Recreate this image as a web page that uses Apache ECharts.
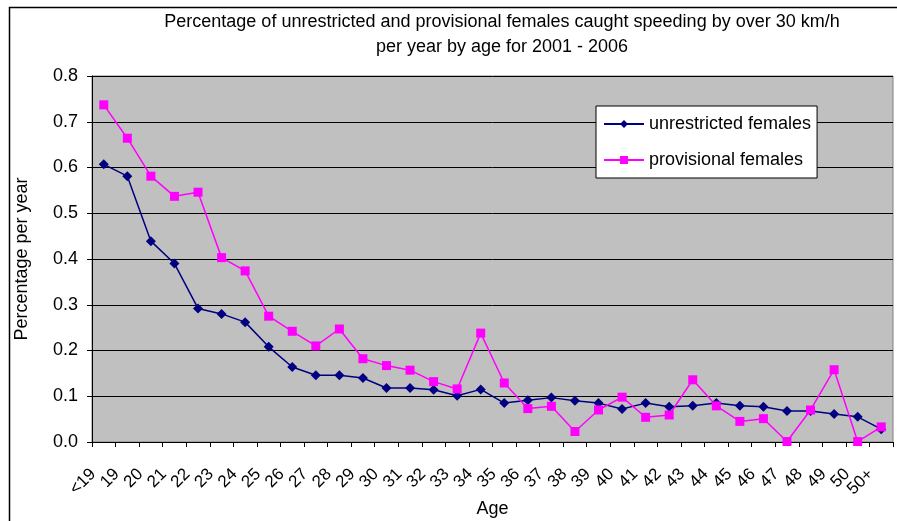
<!DOCTYPE html>
<html>
<head>
<meta charset="utf-8">
<script src="https://cdn.jsdelivr.net/npm/echarts@6/dist/echarts.min.js"></script>
<style>
  html, body { margin: 0; padding: 0; background: #fff; }
  #chart { width: 897px; height: 521px; }
</style>
</head>
<body>
<div id="chart"></div>
<script>
  var ages = ['<19', '19', '20', '21', '22', '23', '24', '25', '26', '27', '28', '29', '30', '31', '32', '33', '34',
    '35', '36', '37', '38', '39', '40', '41', '42', '43', '44', '45', '46', '47', '48', '49', '50', '50+']
  var unrestricted = [0.607, 0.581, 0.439, 0.390, 0.292, 0.280, 0.262, 0.208, 0.164, 0.146, 0.146, 0.140, 0.118, 0.118, 0.114, 0.101, 0.115,
    0.085, 0.091, 0.097, 0.090, 0.085, 0.072, 0.085, 0.077, 0.079, 0.085, 0.079, 0.077, 0.068, 0.068, 0.061, 0.055, 0.028]
  var provisional = [0.737, 0.664, 0.581, 0.537, 0.546, 0.403, 0.374, 0.275, 0.242, 0.210, 0.247, 0.182, 0.167, 0.157, 0.132, 0.116, 0.238,
    0.129, 0.073, 0.078, 0.023, 0.070, 0.098, 0.054, 0.059, 0.136, 0.079, 0.045, 0.051, 0.001, 0.070, 0.158, 0.001, 0.033]

  var font = 'Liberation Sans, Arial, sans-serif'
  var myChart = echarts.init(document.getElementById('chart'))

  var option = {
    animation: false,
    textStyle: { fontFamily: font, color: '#000' },
    graphic: [{
      type: 'rect',
      left: 7,
      top: 5,
      shape: { width: 900, height: 530 },
      style: { fill: 'none', stroke: '#000', lineWidth: 1.5 },
      silent: true
    }],
    title: {
      text: 'Percentage of unrestricted and provisional females caught speeding by over 30 km/h\nper year by age for 2001 - 2006',
      left: 497,
      textAlign: 'center',
      top: 5,
      textStyle: { fontFamily: font, fontSize: 18, fontWeight: 'normal', color: '#000', lineHeight: 25 }
    },
    legend: {
      orient: 'vertical',
      left: 596,
      top: 106,
      padding: [9, 6, 9, 7],
      itemGap: 18,
      itemWidth: 40,
      itemHeight: 10,
      backgroundColor: '#fff',
      borderColor: '#000',
      borderWidth: 1,
      textStyle: { fontFamily: font, fontSize: 18, color: '#000' },
      data: ['unrestricted females', 'provisional females']
    },
    grid: {
      left: 92,
      right: 4,
      top: 76,
      bottom: 79,
      outerBoundsMode: 'none',
      show: true,
      backgroundColor: '#c0c0c0',
      borderColor: '#808080',
      borderWidth: 1
    },
    xAxis: {
      type: 'category',
      data: ages,
      boundaryGap: true,
      name: 'Age',
      nameLocation: 'middle',
      nameGap: 58,
      nameMoveOverlap: false,
      nameTextStyle: { fontFamily: font, fontSize: 18, color: '#000' },
      axisLine: { lineStyle: { color: '#000', width: 1 } },
      axisTick: { show: true, length: 5, lineStyle: { color: '#000' } },
      axisLabel: { rotate: 45, interval: 0, fontSize: 17, color: '#000', fontFamily: font, margin: 19, padding: [0, 15, 0, 0] },
      splitLine: { show: false }
    },
    yAxis: {
      type: 'value',
      min: 0,
      max: 0.8,
      interval: 0.1,
      name: 'Percentage per year',
      nameLocation: 'middle',
      nameGap: 61,
      nameTextStyle: { fontFamily: font, fontSize: 18, color: '#000' },
      axisLine: { show: true, lineStyle: { color: '#000', width: 1 } },
      axisTick: { show: true, length: 5, lineStyle: { color: '#000' } },
      axisLabel: {
        fontSize: 18,
        color: '#000',
        fontFamily: font,
        margin: 14,
        formatter: function (v) { return v.toFixed(1) }
      },
      splitLine: { show: true, lineStyle: { color: '#000', width: 1 } }
    },
    series: [{
      name: 'unrestricted females',
      type: 'line',
      data: unrestricted,
      color: '#000080',
      symbol: 'diamond',
      symbolSize: 10,
      showAllSymbol: true,
      lineStyle: { width: 1.5, color: '#000080' },
      itemStyle: { color: '#000080' }
    }, {
      name: 'provisional females',
      type: 'line',
      data: provisional,
      color: '#ff00ff',
      symbol: 'rect',
      symbolSize: 9,
      showAllSymbol: true,
      lineStyle: { width: 1.5, color: '#ff00ff' },
      itemStyle: { color: '#ff00ff' }
    }]
  }
  myChart.setOption(option)
</script>
</body>
</html>
